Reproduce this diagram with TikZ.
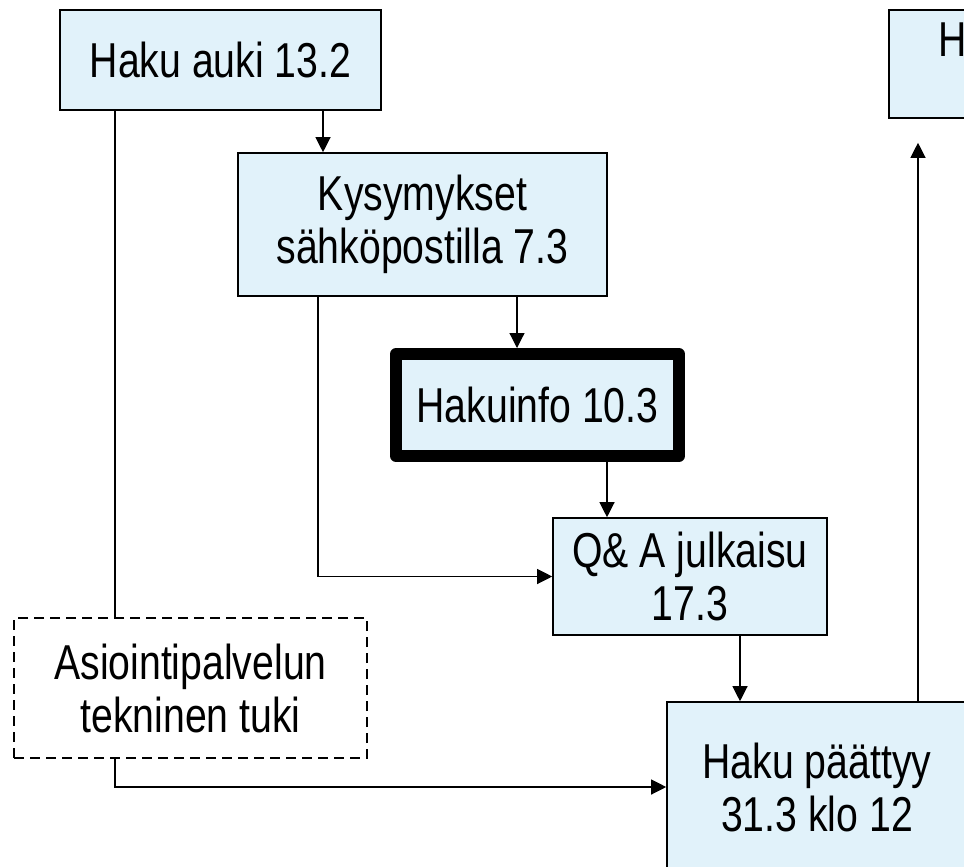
\documentclass[tikz,border=0pt]{standalone}
\usepackage{fontspec}
\setmainfont{Liberation Sans}[FakeStretch=0.8]
\usetikzlibrary{arrows.meta}
\definecolor{boxfill}{RGB}{225,242,250}

\begin{document}
\begin{tikzpicture}[x=0.5pt,y=-0.5pt]
\useasboundingbox (0,0) rectangle (964,867);
\clip (0,0) rectangle (964,867);
\tikzstyle{box}=[draw,line width=0.8pt,fill=boxfill,align=center,inner sep=0pt,font=\fontsize{24.5}{26.5}\selectfont]
\tikzstyle{infobox}=[box,line width=6pt,line join=round]
\tikzstyle{tukibox}=[box,fill=white,dash pattern=on 5pt off 3pt]
\tikzstyle{arr}=[->,>={Triangle[length=7.5pt,width=7.5pt]},line width=0.6pt]

\node[box,minimum width=160.5pt,minimum height=50pt] (auki) at (220.5,60) {Haku auki 13.2};
\node[box,minimum width=184.5pt,minimum height=71.5pt] (kysy) at (422.5,224.5) {Kysymykset\\sähköpostilla 7.3};
\node[infobox,minimum width=141.5pt,minimum height=51pt] (info) at (537.5,405) {Hakuinfo 10.3};
\node[box,minimum width=137pt,minimum height=58.5pt] (qa) at (690,576.5) {Q\& A julkaisu\\17.3};
\node[box,minimum width=150pt,minimum height=85pt] (paattyy) at (817,787) {Haku päättyy\\31.3 klo 12};
\node[tukibox,minimum width=176.5pt,minimum height=70pt] (tuki) at (190.5,688) {Asiointipalvelun\\tekninen tuki};
\node[box,minimum width=130pt,minimum height=54pt] (tulos) at (1019,64) {};
\node[anchor=base west,inner sep=0pt,font=\fontsize{24.5}{26.5}\selectfont] (tulosH) at (938,56) {H};

% connector columns
\coordinate (x1) at (115,0);
\coordinate (x2) at (323,0);
\coordinate (x3) at (318,0);
\coordinate (x4) at (517,0);
\coordinate (x5) at (607,0);
\coordinate (x6) at (740,0);
\coordinate (x7) at (918,0);

\draw[line width=0.6pt] (x1 |- auki.south) -- (x1 |- tuki.north);
\draw[arr] (x1 |- tuki.south) |- (paattyy.west);
\draw[arr] (x2 |- auki.south) -- (x2 |- kysy.north);
\draw[arr] (x3 |- kysy.south) |- (qa.west);
\draw[arr] (x4 |- kysy.south) -- (x4 |- info.north);
\draw[arr] (x5 |- info.south) -- (x5 |- qa.north);
\draw[arr] (x6 |- qa.south) -- (x6 |- paattyy.north);
\draw[arr,shorten >=12pt] (x7 |- paattyy.north) -- (x7 |- tulos.south);
\end{tikzpicture}
\end{document}
